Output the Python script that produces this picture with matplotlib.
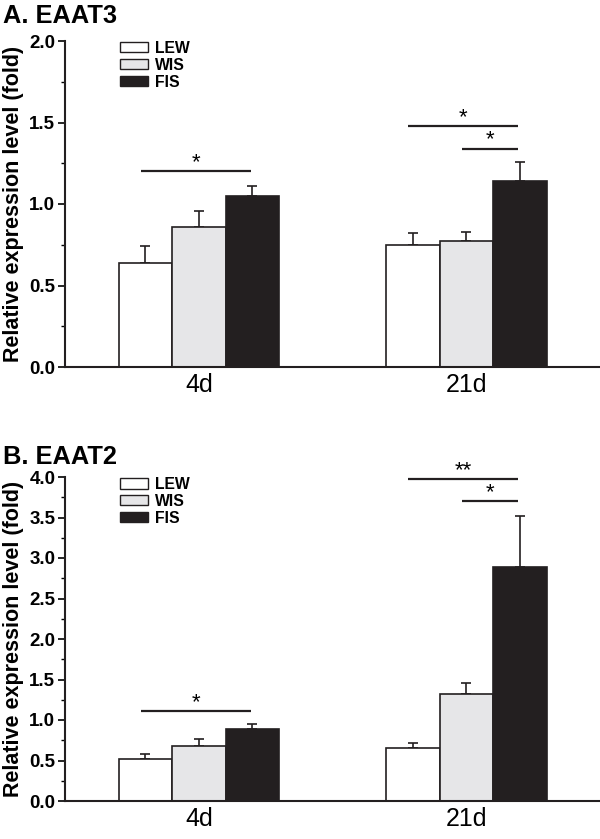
import matplotlib
matplotlib.use("Agg")
import matplotlib.pyplot as plt
from matplotlib.patches import Patch
import numpy as np

plt.rcParams['font.family'] = ['Liberation Sans', 'DejaVu Sans']

groups = ["4d", "21d"]
strains = ["LEW", "WIS", "FIS"]
colors = ["#ffffff", "#e6e6e8", "#231f20"]

# Panel A: EAAT3
a_means = {"LEW": [0.64, 0.75], "WIS": [0.86, 0.77], "FIS": [1.05, 1.14]}
a_err = {"LEW": [0.10, 0.07], "WIS": [0.10, 0.06], "FIS": [0.06, 0.12]}
# Panel B: EAAT2
b_means = {"LEW": [0.52, 0.65], "WIS": [0.68, 1.32], "FIS": [0.89, 2.89]}
b_err = {"LEW": [0.06, 0.07], "WIS": [0.09, 0.14], "FIS": [0.06, 0.63]}

# significance: (group, strain_from, strain_to, y, label)
a_sig = [(0, 0, 2, 1.20, "*"), (1, 0, 2, 1.48, "*"), (1, 1, 2, 1.34, "*")]
b_sig = [(0, 0, 2, 1.11, "*"), (1, 0, 2, 3.98, "**"), (1, 1, 2, 3.70, "*")]

group_left = [1.0, 6.0]
W = 1.0

fig = plt.figure(figsize=(6.0, 8.39), dpi=100)
axA = fig.add_axes([65/600, 472/839, 535/600, 326/839])
axB = fig.add_axes([65/600, 38/839, 535/600, 324/839])


def draw(ax, means, errs, sigs, ymax, title, title_top):
    for si, s in enumerate(strains):
        xs = [group_left[g] + si * W + W / 2 for g in range(2)]
        ax.bar(xs, means[s], width=W, color=colors[si], edgecolor="#231f20",
               linewidth=1.2, zorder=2)
        ax.errorbar(xs, means[s], yerr=[np.zeros(2), errs[s]], fmt="none",
                    ecolor="#231f20", elinewidth=1.2, capsize=3.5,
                    capthick=1.2, zorder=1)
    for g, i, j, y, lab in sigs:
        x0 = group_left[g] + i * W + W / 2 - 0.08
        x1 = group_left[g] + j * W + W / 2 - 0.03
        ax.plot([x0, x1], [y, y], color="#231f20", lw=1.6, clip_on=False,
                solid_capstyle="butt")
        ax.annotate(lab, xy=((x0 + x1) / 2, y), xytext=(0, -1.5),
                    textcoords="offset points", ha="center", va="bottom",
                    fontsize=16, annotation_clip=False)
    ax.set_xlim(0, 10)
    ax.set_ylim(0, ymax)
    ax.set_xticks([group_left[g] + 1.5 * W for g in range(2)])
    ax.set_xticklabels(groups, fontsize=18)
    ax.tick_params(axis="x", length=0, pad=4)
    ax.set_yticks(np.arange(0, ymax + 0.01, 0.5))
    ax.set_yticklabels([f"{v:.1f}" for v in np.arange(0, ymax + 0.01, 0.5)],
                       fontsize=13.5, fontweight="bold")
    ax.set_yticks(np.arange(0.25, ymax, 0.5), minor=True)
    ax.tick_params(axis="y", which="major", length=5, width=1.2, pad=2)
    ax.tick_params(axis="y", which="minor", length=3, width=1.0)
    for sp in ["top", "right"]:
        ax.spines[sp].set_visible(False)
    for sp in ["left", "bottom"]:
        ax.spines[sp].set_linewidth(1.5)
        ax.spines[sp].set_color("#231f20")
    ax.set_ylabel("Relative expression level (fold)", fontsize=15.5,
                  fontweight="bold", labelpad=4)
    handles = [Patch(facecolor=colors[i], edgecolor="#231f20", linewidth=1.0,
                     label=strains[i]) for i in range(3)]
    ax.legend(handles=handles, loc="upper left", bbox_to_anchor=(0.092, 1.02),
              frameon=False, prop={"weight": "bold", "size": 11.3},
              handlelength=1.75, handleheight=0.65, labelspacing=0.12,
              handletextpad=0.45, borderaxespad=0)
    fig.text(3/600, 1 - title_top/839, title, fontsize=18.3,
             fontweight="bold", ha="left", va="top")


draw(axA, a_means, a_err, a_sig, 2.0, "A. EAAT3", 4)
draw(axB, b_means, b_err, b_sig, 4.0, "B. EAAT2", 445)

fig.savefig("out.png", dpi=100)
